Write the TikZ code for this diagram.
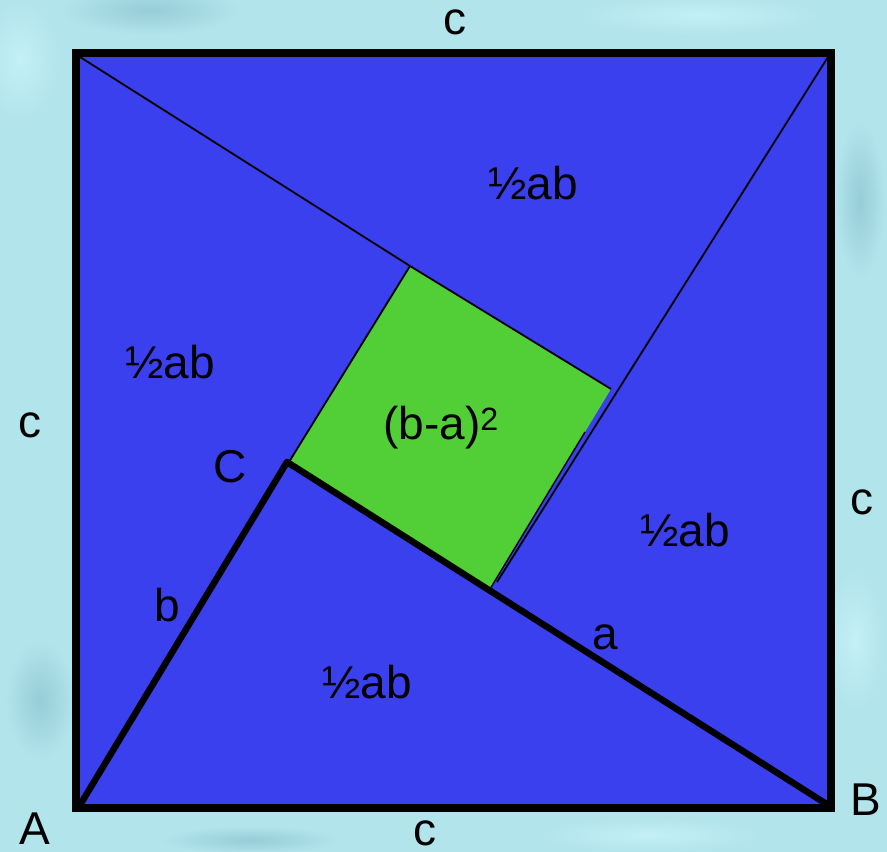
\documentclass[tikz,border=0pt]{standalone}
\usepackage{fontspec}
\setmainfont{Liberation Sans}
\definecolor{bgcyan}{RGB}{178,228,236}
\definecolor{bgdark}{RGB}{150,205,215}
\definecolor{bglight}{RGB}{196,240,246}
\definecolor{sqblue}{RGB}{58,64,238}
\definecolor{sqgreen}{RGB}{82,206,54}
\begin{document}
\begin{tikzpicture}[x=1pt,y=-1pt,
  lbl/.style={inner sep=0pt,font=\fontsize{46}{52}\selectfont},
  thinline/.style={line width=1.8pt},
  thickline/.style={line width=6.5pt,line cap=round,line join=round},
  border/.style={line width=7.5pt},
  blob/.style={inner color=#1,outer color=bgcyan}]
\useasboundingbox (0,0) rectangle (887,852);
\fill[bgcyan] (0,0) rectangle (887,852);
% subtle mottled background
\shade[blob=bgdark] (150,10) ellipse (90 and 25);
\shade[blob=bglight] (20,60) ellipse (40 and 60);
\shade[blob=bgdark] (860,200) ellipse (25 and 80);
\shade[blob=bglight] (855,640) ellipse (30 and 70);
\shade[blob=bgdark] (40,700) ellipse (35 and 60);
\shade[blob=bglight] (650,835) ellipse (110 and 18);
\shade[blob=bgdark] (250,840) ellipse (90 and 14);
\shade[blob=bglight] (700,15) ellipse (120 and 20);
% corners of big square
\coordinate (TL) at (76,53);
\coordinate (TR) at (831,53);
\coordinate (BR) at (831,808);
\coordinate (BL) at (76,808);
\coordinate (A) at (80,805);
\coordinate (B) at (828,805);
\coordinate (C) at (287,462);
% green square
\coordinate (G1) at (410,266);
\coordinate (G2) at (611,389);
\coordinate (G3) at (490,589);
\coordinate (G4) at (289,462);
\coordinate (TRi) at (828,57);
\coordinate (TLi) at (80,57);
\coordinate (E) at (497,582);
\coordinate (G2m) at (585,432);
\fill[sqblue] (TL) rectangle (BR);
\fill[sqgreen] (G1) -- (G2) -- (G3) -- (G4) -- cycle;
\draw[thinline] (TLi) -- (G1) -- (G2);
\draw[thinline] (G1) -- (G4);
\draw[thinline] (TRi) -- (E);
\draw[line width=1.4pt] (G2m) -- (G3);
\draw[thickline] (A) -- (C) -- (B);
\draw[border] (TL) rectangle (BR);
% labels
\node[lbl] (ctop) at (455,22) {c};
\node[lbl] (cleft) at (30,425) {c};
\node[lbl] (cright) at (862,502) {c};
\node[lbl] (cbot) at (425,833) {c};
\node[lbl] (lA) at (35,829) {A};
\node[lbl] (lB) at (866,800) {B};
\node[lbl] (lC) at (230,467) {C};
\node[lbl] (lb) at (167,605) {b};
\node[lbl] (la) at (605,637) {a};
\node[lbl] (h1) at (533,183) {½ab};
\node[lbl] (h2) at (170,362) {½ab};
\node[lbl] (h3) at (685,530) {½ab};
\node[lbl] (h4) at (367,682) {½ab};
\node[lbl] (sq) at (441,428) {(b-a)\textsuperscript{2}};
\end{tikzpicture}
\end{document}
